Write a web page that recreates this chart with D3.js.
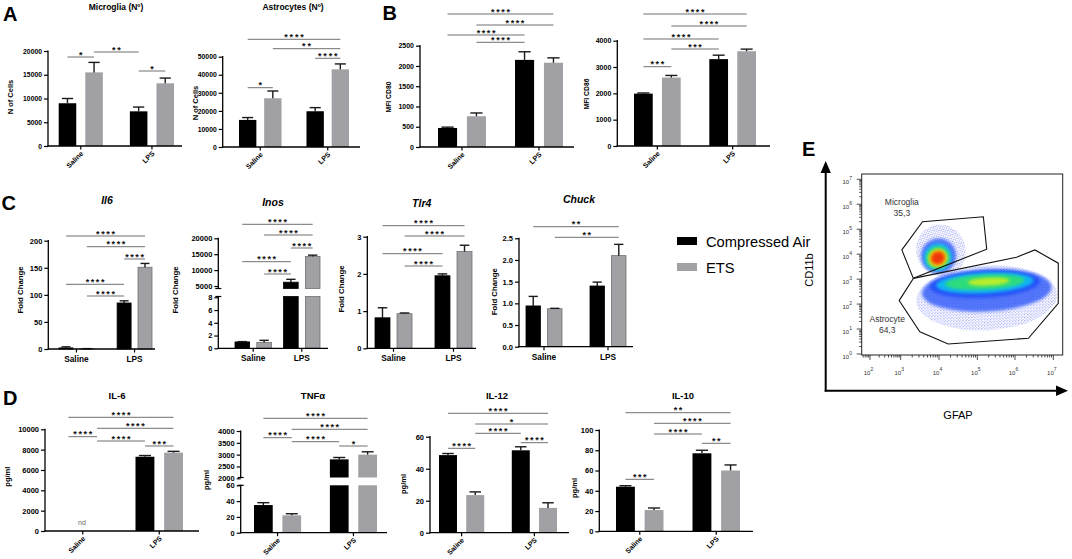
<!DOCTYPE html>
<html><head><meta charset="utf-8">
<script src="https://cdn.jsdelivr.net/npm/d3@7"></script>
<style>
html,body{margin:0;padding:0;background:#fff;}
svg{display:block;}
</style></head><body>
<svg id="fig" width="1072" height="559"></svg>
<script>
// ================= DATA =================
const groups = ["Saline", "LPS"];
const seriesNames = ["Compressed Air", "ETS"];
// bar order: Saline/Compressed Air, Saline/ETS, LPS/Compressed Air, LPS/ETS

// A
const microgliaMean = [9000, 15500, 7300, 13200];
const microgliaSEM  = [1000, 2100, 900, 1100];
const microgliaSig  = [[0,1,"*"],[1,2,"**"],[2,3,"*"]];
const microgliaTicks = [0,5000,10000,15000,20000];

const astroMean = [15000, 27000, 19800, 43000];
const astroSEM  = [1300, 4000, 2000, 3000];
const astroSig  = [[0,1,"*"],[2,3,"****"],[1,3,"**"],[0,3,"****"]];
const astroTicks = [0,10000,20000,30000,40000,50000];

// B
const cd80Mean = [470, 760, 2150, 2080];
const cd80SEM  = [20, 80, 200, 120];
const cd80Sig  = [[1,2,"****"],[0,2,"****"],[1,3,"****"],[0,3,"****"]];
const cd80Ticks = [0,500,1000,1500,2000,2500];

const cd86Mean = [1990, 2600, 3300, 3600];
const cd86SEM  = [25, 80, 150, 80];
const cd86Sig  = [[0,1,"***"],[1,2,"***"],[0,2,"****"],[1,3,"****"],[0,3,"****"]];
const cd86Ticks = [0,1000,2000,3000,4000];

// C
const il6FoldMean = [2, 0.4, 85, 151];
const il6FoldSEM  = [2, 0.3, 4, 7];
const il6FoldSig  = [[1,2,"****"],[0,2,"****"],[2,3,"****"],[1,3,"****"],[0,3,"****"]];
const il6FoldTicks = [0,50,100,150,200];

const inosMean = [1.0, 0.9, 6200, 14300];
const inosSEM  = [0.05, 0.35, 900, 400];
const inosSig  = [[1,2,"****"],[0,2,"****"],[2,3,"****"],[1,3,"****"],[0,3,"****"]];
const inosTicksLow = [0,2,4,6,8];
const inosTicksHigh = [5000,10000,15000,20000];

const tlr4Mean = [0.82, 0.93, 1.95, 2.6];
const tlr4SEM  = [0.27, 0.02, 0.05, 0.17];
const tlr4Sig  = [[1,2,"****"],[0,2,"****"],[1,3,"****"],[0,3,"****"]];
const tlr4Ticks = [0,1,2,3];

const chuckMean = [0.94, 0.875, 1.40, 2.1];
const chuckSEM  = [0.22, 0.01, 0.09, 0.26];
const chuckSig  = [[1,3,"**"],[0,3,"**"]];
const chuckTicks = [0,0.5,1,1.5,2,2.5];

// D
const il6Mean = [null, null, 7300, 7700];
const il6SEM  = [null, null, 120, 130];
const il6Sig  = [[2,3,"***"],[1,2,"****"],[0,1,"****"],[1,3,"****"],[0,3,"****"]];
const il6Ticks = [0,2000,4000,6000,8000,10000];

const tnfMean = [35, 22, 2800, 3000];
const tnfSEM  = [3, 2, 80, 120];
const tnfSig  = [[2,3,"*"],[1,2,"****"],[0,1,"****"],[1,3,"****"],[0,3,"****"]];
const tnfTicksLow = [0,20,40,60];
const tnfTicksHigh = [2000,2500,3000,3500,4000];

const il12Mean = [48.5, 23.5, 51.5, 15.5];
const il12SEM  = [1, 2, 2.2, 3.2];
const il12Sig  = [[0,1,"****"],[2,3,"****"],[1,2,"****"],[1,3,"*"],[0,3,"****"]];
const il12Ticks = [0,20,40,60];

const il10Mean = [44, 21, 77, 60];
const il10SEM  = [1, 2, 3, 5.5];
const il10Sig  = [[0,1,"***"],[2,3,"**"],[1,2,"****"],[1,3,"****"],[0,3,"**"]];
const il10Ticks = [0,20,40,60,80,100];

// E  (flow cytometry, log10 units)
const flowXDecades = [2,3,4,5,6,7];
const flowYDecades = [0,1,2,3,4,5,6,7];
const microgliaGate = [[3.03,4.17],[3.57,5.30],[5.16,5.50],[5.25,4.20],[3.33,3.03]];
const astrocyteGate = [[3.33,3.03],[6.04,3.88],[6.52,4.17],[7.13,3.64],[7.13,2.03],[6.35,0.63],[4.24,0.40],[3.50,0.89],[2.95,2.14]];
const gateLabels = [
  {name:"Microglia", pct:"35,3", x:3.03, y:6.08, y2:5.64},
  {name:"Astrocyte", pct:"64,3", x:2.56, y:1.40, y2:0.96}
];
// density contours: [centerX, centerY, radiusX, radiusY, level]
const microgliaDensity = [
  [4.05,4.15,0.64,1.05,0],[3.99,3.93,0.46,0.70,1],[3.97,3.88,0.37,0.55,2],
  [3.97,3.86,0.31,0.45,3],[3.97,3.85,0.26,0.37,4],[3.97,3.85,0.22,0.31,5],[3.97,3.85,0.17,0.24,6]
];
const astrocyteDensity = [
  [5.25,2.25,1.85,1.30,0],[5.25,2.55,1.70,0.85,1],[5.20,2.80,1.45,0.55,1],
  [5.20,2.85,1.28,0.42,2],[5.20,2.88,1.05,0.30,3],[5.30,2.90,0.55,0.16,4]
];
const densityPalette = ["#2030e0","#2050f8","#10c0f0","#30e070","#c8f020","#ffa000","#f02a10"];

// ================= LAYOUT =================
const FONT = '"Liberation Sans", Arial, Helvetica, sans-serif';
const GREY = "#a1a1a5";
const svg = d3.select("#fig").attr("font-family", FONT);

const panelStyle = {
  A:{tick:6.8, title:8.5, tstyle:"normal", ylab:7.5, xlab:7, xrot:true, star:9, ls:1.9},
  B:{tick:7, title:8.5, tstyle:"normal", ylab:6.8, xlab:7, xrot:true, star:9, ls:1.6},
  C:{tick:7.5, title:10.5, tstyle:"italic", ylab:7.8, xlab:8.3, xrot:false, star:9, ls:1.6, outline:true},
  D:{tick:7.5, title:9.5, tstyle:"normal", ylab:7.5, xlab:7, xrot:true, star:9, ls:1.6}
};

const layout = {
  microglia:{ax:[48,182], bars:[58.7,174], gp:0.38, bp:0.34, segs:[{r:[146,51]}], sigY:[57,52,71], tx:116, ty:10, lx:10, ly:97},
  astro:{ax:[222.7,360], bars:[239,349], gp:0.37, bp:0.31, segs:[{r:[147,56.7]}], sigY:[87.7,58.3,48.7,39.3], tx:293, ty:10, lx:195, ly:103},
  cd80:{ax:[420,574], bars:[438,563], gp:0.377, bp:0.34, segs:[{r:[147,45.7]}], sigY:[42.3,35,25,14], lx:388, ly:97},
  cd86:{ax:[617.3,770], bars:[634,756], gp:0.38, bp:0.33, segs:[{r:[146,40.7]}], sigY:[66.7,49,39,26,14], lx:586.7, ly:94},
  il6f:{ax:[48.3,155], bars:[59,152], gp:0.40, bp:0.33, segs:[{r:[349,240.7]}], sigY:[296,284.3,259,246.7,236], tx:107, ty:204, lx:20, ly:290},
  inos:{ax:[218.3,328], bars:[235,320], gp:0.25, bp:0.33, segs:[{r:[348.3,297.3], ext:[348.3,296.5]},{r:[286,238.3], ext:[288.5,238.3]}], sigY:[274,261.7,248,235,224.3], tx:273, ty:205.5, lx:175, ly:290},
  tlr4:{ax:[367.3,476], bars:[375,472], gp:0.383, bp:0.32, segs:[{r:[348.3,236.7]}], sigY:[266,253.7,236,225.7], tx:421.7, ty:207, lx:341.7, ly:289},
  chuck:{ax:[519,633], bars:[526,626], gp:0.4375, bp:0.33, segs:[{r:[346.7,238.3]}], sigY:[237.3,226.7], tx:579, ty:203, lx:494, ly:291.7},
  il6:{ax:[45,199], bars:[59,183], gp:0.379, bp:0.34, segs:[{r:[531,429.3]}], sigY:[446,441,436.7,428.3,417.3], tx:117, ty:398.5, lx:7.3, ly:476.7, nd:[82,525]},
  tnf:{ax:[240.7,387], bars:[254,377], gp:0.379, bp:0.34, segs:[{r:[532.7,485.3], ext:[532.7,485.3]},{r:[478.3,431], ext:[477.5,431]}], sigY:[446,441.7,437.7,429.3,418.3], tx:313, ty:398.5, lx:206, ly:480},
  il12:{ax:[430,569], bars:[439,557], gp:0.379, bp:0.34, segs:[{r:[532.7,436.7]}], sigY:[448.3,442.7,433.3,424,413.3], tx:497, ty:398.5, lx:403, ly:484},
  il10:{ax:[599.3,753], bars:[616,740], gp:0.379, bp:0.34, segs:[{r:[531.3,430]}], sigY:[479.3,443.3,434,423.3,412.7], tx:683, ty:398.5, lx:574, ly:488}
};

const charts = [
  {id:"microglia", panel:"A", title:"Microglia (Nº)", ylab:"N of Cells", mean:microgliaMean, sem:microgliaSEM, sig:microgliaSig, segs:[{d:[0,20000], t:microgliaTicks}]},
  {id:"astro", panel:"A", title:"Astrocytes (Nº)", ylab:"N of Cells", mean:astroMean, sem:astroSEM, sig:astroSig, segs:[{d:[0,50000], t:astroTicks}]},
  {id:"cd80", panel:"B", title:null, ylab:"MFI CD80", mean:cd80Mean, sem:cd80SEM, sig:cd80Sig, segs:[{d:[0,2500], t:cd80Ticks}]},
  {id:"cd86", panel:"B", title:null, ylab:"MFI CD86", mean:cd86Mean, sem:cd86SEM, sig:cd86Sig, segs:[{d:[0,4000], t:cd86Ticks}]},
  {id:"il6f", panel:"C", title:"Il6", ylab:"Fold Change", mean:il6FoldMean, sem:il6FoldSEM, sig:il6FoldSig, segs:[{d:[0,200], t:il6FoldTicks}]},
  {id:"inos", panel:"C", title:"Inos", ylab:"Fold Change", mean:inosMean, sem:inosSEM, sig:inosSig, segs:[{d:[0,8], t:inosTicksLow},{d:[5000,20000], t:inosTicksHigh}]},
  {id:"tlr4", panel:"C", title:"Tlr4", ylab:"Fold Change", mean:tlr4Mean, sem:tlr4SEM, sig:tlr4Sig, segs:[{d:[0,3], t:tlr4Ticks}]},
  {id:"chuck", panel:"C", title:"Chuck", ylab:"Fold Change", mean:chuckMean, sem:chuckSEM, sig:chuckSig, segs:[{d:[0,2.5], t:chuckTicks}], fmt:".1f"},
  {id:"il6", panel:"D", title:"IL-6", ylab:"pg/ml", mean:il6Mean, sem:il6SEM, sig:il6Sig, segs:[{d:[0,10000], t:il6Ticks}], nd:"nd"},
  {id:"tnf", panel:"D", title:"TNFα", ylab:"pg/ml", mean:tnfMean, sem:tnfSEM, sig:tnfSig, segs:[{d:[0,60], t:tnfTicksLow},{d:[2000,4000], t:tnfTicksHigh}]},
  {id:"il12", panel:"D", title:"IL-12", ylab:"pg/ml", mean:il12Mean, sem:il12SEM, sig:il12Sig, segs:[{d:[0,60], t:il12Ticks}]},
  {id:"il10", panel:"D", title:"IL-10", ylab:"pg/ml", mean:il10Mean, sem:il10SEM, sig:il10Sig, segs:[{d:[0,100], t:il10Ticks}]}
];

function drawChart(c) {
  const L = layout[c.id], S = panelStyle[c.panel];
  const g = svg.append("g");
  const gx = d3.scaleBand().domain(groups).range(L.bars).paddingInner(L.gp).paddingOuter(0);
  const sx = d3.scaleBand().domain(seriesNames).range([0, gx.bandwidth()]).paddingInner(L.bp).paddingOuter(0);
  const bw = sx.bandwidth();
  const bx = i => gx(groups[Math.floor(i/2)]) + sx(seriesNames[i%2]);
  const segs = c.segs.map((s,k)=>{const l=L.segs[k]; return {d:s.d, t:s.t, r:l.r, ext:l.ext||l.r, sc:d3.scaleLinear().domain(s.d).range(l.r)};});
  const base = segs[0].sc(0);

  // bars
  c.mean.forEach((m,i)=>{
    if (m==null) return;
    segs.forEach((s,k)=>{
      if (k>0 && m<=s.d[0]) return;
      const yb = k===0 ? s.sc(0) : s.ext[0];
      const yt = m > s.d[1] ? s.ext[1] : s.sc(m);
      g.append("rect").attr("x",bx(i)).attr("y",yt).attr("width",bw).attr("height",Math.max(0,yb-yt))
        .attr("fill", i%2 ? GREY : "#000")
        .attr("stroke", S.outline ? (i%2 ? "#707070" : "#000") : "none").attr("stroke-width",0.8);
    });
    const s = segs.find((s,k)=> m<=s.d[1] && (k===0 || m>s.d[0])) || segs[segs.length-1];
    const y1 = s.sc(m), y2 = s.sc(m + c.sem[i]);
    const cx = bx(i) + bw/2;
    g.append("line").attr("x1",cx).attr("x2",cx).attr("y1",y1).attr("y2",y2).attr("stroke","#1a1a1a").attr("stroke-width",1.4);
    g.append("line").attr("x1",cx-bw*0.32).attr("x2",cx+bw*0.32).attr("y1",y2).attr("y2",y2).attr("stroke","#1a1a1a").attr("stroke-width",1.4);
  });

  // y axis segments
  segs.forEach((s,k)=>{
    const ax = d3.axisLeft(s.sc).tickValues(s.t).tickSize(4).tickSizeOuter(0).tickPadding(2)
      .tickFormat(d3.format(c.fmt || "d"));
    const ag = g.append("g").attr("transform",`translate(${L.ax[0]},0)`).call(ax);
    ag.select(".domain").remove();
    ag.selectAll(".tick line").attr("stroke","#000").attr("stroke-width",1.2);
    ag.selectAll(".tick text").attr("font-size",S.tick).attr("font-weight","bold").attr("font-family",FONT).attr("fill","#000");
    g.append("line").attr("x1",L.ax[0]).attr("x2",L.ax[0]).attr("y1",s.ext[0]+0.6).attr("y2",s.ext[1]-0.6)
      .attr("stroke","#000").attr("stroke-width",1.3);
    if (segs.length>1) {
      const yb = k===0 ? s.ext[1] : s.ext[0];
      g.append("line").attr("x1",L.ax[0]-3).attr("x2",L.ax[0]+3).attr("y1",yb).attr("y2",yb).attr("stroke","#000").attr("stroke-width",1.2);
    }
  });

  // x axis
  g.append("line").attr("x1",L.ax[0]-0.6).attr("x2",L.ax[1]).attr("y1",base).attr("y2",base).attr("stroke","#000").attr("stroke-width",1.3);
  groups.forEach(gr=>{
    const cx = gx(gr) + gx.bandwidth()/2;
    g.append("line").attr("x1",cx).attr("x2",cx).attr("y1",base).attr("y2",base+3.5).attr("stroke","#000").attr("stroke-width",1.2);
    const t = g.append("text").text(gr).attr("font-size",S.xlab).attr("font-weight","bold").attr("fill","#000");
    if (S.xrot) t.attr("text-anchor","end").attr("transform",`translate(${cx+3},${base+8}) rotate(-45)`);
    else t.attr("text-anchor","middle").attr("x",cx).attr("y",base+13);
  });

  // title
  if (c.title) {
    g.append("text").text(c.title).attr("x",L.tx).attr("y",L.ty).attr("text-anchor","middle")
      .attr("font-size",S.title).attr("font-weight","bold").attr("font-style",S.tstyle).attr("fill","#000");
  }
  // y label
  g.append("text").text(c.ylab).attr("text-anchor","middle").attr("dominant-baseline","central")
    .attr("transform",`translate(${L.lx},${L.ly}) rotate(-90)`)
    .attr("font-size",S.ylab).attr("font-weight","bold").attr("fill","#000");

  // significance
  c.sig.forEach(([i,j,lab],k)=>{
    const y = L.sigY[k];
    const x1 = bx(i)+bw/2, x2 = bx(j)+bw/2;
    g.append("line").attr("x1",x1).attr("x2",x2).attr("y1",y).attr("y2",y).attr("stroke","#707070").attr("stroke-width",1);
    g.append("text").text(lab).attr("x",(x1+x2)/2 + S.ls/2).attr("y",y - 4.5 + 0.58*S.star)
      .attr("text-anchor","middle").attr("font-size",S.star).attr("font-weight","bold")
      .attr("letter-spacing",S.ls).attr("fill","#111");
  });

  if (c.nd) {
    g.append("text").text(c.nd).attr("x",L.nd[0]).attr("y",L.nd[1]).attr("text-anchor","middle")
      .attr("font-size",7).attr("fill","#666");
  }
}
charts.forEach(drawChart);

// panel letters
[["A",3,20.7],["B",382.5,20],["C",1.5,210],["D",3,405],["E",802,156]].forEach(([t,x,y])=>{
  svg.append("text").text(t).attr("x",x).attr("y",y).attr("font-size",20).attr("font-weight","bold").attr("fill","#000");
});

// legend
seriesNames.forEach((n,i)=>{
  const y = [237,263][i];
  svg.append("rect").attr("x",677).attr("y",y).attr("width",20).attr("height",8).attr("fill", i ? GREY : "#000");
  svg.append("text").text(n).attr("x",706).attr("y",y+10).attr("font-size",14.7).attr("fill","#000");
});

// ================= PANEL E =================
(function(){
  const box = {x0:861.7, x1:1062.7, y0:174, y1:355};
  const fx = d3.scaleLinear().domain(flowXDecades).range([870,900.7,939,977.3,1015,1053.3]);
  const fy = d3.scaleLinear().domain([0,7]).range([354,179.3]);
  const g = svg.append("g");
  const defs = svg.append("defs");
  const pat = defs.append("pattern").attr("id","stip").attr("patternUnits","userSpaceOnUse").attr("width",3.1).attr("height",2.9);
  pat.append("circle").attr("cx",0.7).attr("cy",0.7).attr("r",0.55).attr("fill","#1a22d8");
  pat.append("circle").attr("cx",2.2).attr("cy",2.1).attr("r",0.5).attr("fill","#3a52ff");
  defs.append("filter").attr("id","blur").attr("x","-50%").attr("y","-50%").attr("width","200%").attr("height","200%")
    .append("feGaussianBlur").attr("stdDeviation",1.8);
  const clip = defs.append("clipPath").attr("id","boxclip");
  clip.append("rect").attr("x",box.x0).attr("y",box.y0).attr("width",box.x1-box.x0).attr("height",box.y1-box.y0);

  const dg = g.append("g").attr("clip-path","url(#boxclip)");
  function drawCloud(layers, rot) {
    layers.forEach(([cx,cy,rx,ry,lev],k)=>{
      const px = fx(cx), py = fy(cy);
      const prx = Math.abs(fx(cx+rx)-fx(cx-rx))/2, pry = Math.abs(fy(cy+ry)-fy(cy-ry))/2;
      const e = dg.append("ellipse").attr("cx",px).attr("cy",py).attr("rx",prx).attr("ry",pry)
        .attr("transform",`rotate(${rot},${px},${py})`);
      if (k===0) e.attr("fill","url(#stip)").attr("opacity",0.8);
      else e.attr("fill",densityPalette[lev]).attr("filter","url(#blur)").attr("opacity",k===1?0.75:0.9);
    });
  }
  drawCloud(astrocyteDensity, -3);
  drawCloud(microgliaDensity, -25);

  // box
  g.append("rect").attr("x",box.x0).attr("y",box.y0).attr("width",box.x1-box.x0).attr("height",box.y1-box.y0)
    .attr("fill","none").attr("stroke","#222").attr("stroke-width",1);

  // gates
  const line = d3.line().x(d=>fx(d[0])).y(d=>fy(d[1]));
  [microgliaGate, astrocyteGate].forEach(p=>{
    g.append("path").attr("d", line(p)+"Z").attr("fill","none").attr("stroke","#111").attr("stroke-width",1.1);
  });
  gateLabels.forEach(l=>{
    g.append("text").text(l.name).attr("x",fx(l.x)).attr("y",fy(l.y)+3).attr("text-anchor","middle").attr("font-size",8.5).attr("fill","#333");
    g.append("text").text(l.pct).attr("x",fx(l.x)).attr("y",fy(l.y2)+3).attr("text-anchor","middle").attr("font-size",8.5).attr("fill","#333");
  });

  // y ticks
  const tk = g.append("g").attr("stroke","#222").attr("stroke-width",0.8);
  flowYDecades.forEach(n=>{
    tk.append("line").attr("x1",box.x0-5).attr("x2",box.x0).attr("y1",fy(n)).attr("y2",fy(n));
    if (n<7) d3.range(2,10).forEach(k=>{
      const y = fy(n+Math.log10(k));
      tk.append("line").attr("x1",box.x0-2.5).attr("x2",box.x0).attr("y1",y).attr("y2",y);
    });
    const t = g.append("text").attr("x",852).attr("y",fy(n)+5).attr("text-anchor","end").attr("font-size",6).attr("fill","#333");
    t.append("tspan").text("10");
    t.append("tspan").text(n).attr("font-size",5).attr("dy",-4);
  });
  // x ticks
  [1,2,3,4,5,6].forEach(n=>{
    if (n>=2) tk.append("line").attr("x1",fx(n)).attr("x2",fx(n)).attr("y1",box.y1).attr("y2",box.y1+5);
    d3.range(2,10).forEach(k=>{
      const v = n+Math.log10(k);
      const x = fx(v);
      if (x < box.x0 || x > box.x1) return;
      tk.append("line").attr("x1",x).attr("x2",x).attr("y1",box.y1).attr("y2",box.y1+2.5);
    });
  });
  tk.append("line").attr("x1",fx(7)).attr("x2",fx(7)).attr("y1",box.y1).attr("y2",box.y1+5);
  flowXDecades.forEach(n=>{
    const t = g.append("text").attr("x",fx(n)-1.5).attr("y",374.5).attr("text-anchor","middle").attr("font-size",6).attr("fill","#333");
    t.append("tspan").text("10");
    t.append("tspan").text(n).attr("font-size",5).attr("dy",-4);
  });

  // big arrows
  g.append("line").attr("x1",825.7).attr("x2",825.7).attr("y1",391.5).attr("y2",170).attr("stroke","#000").attr("stroke-width",2);
  g.append("path").attr("d","M825.7,161 L820.5,173 L830.9,173 Z").attr("fill","#000");
  g.append("line").attr("x1",824.7).attr("x2",1058).attr("y1",390.7).attr("y2",390.7).attr("stroke","#000").attr("stroke-width",2);
  g.append("path").attr("d","M1068,390.7 L1056,385.5 L1056,395.9 Z").attr("fill","#000");

  g.append("text").text("CD11b").attr("text-anchor","middle").attr("dominant-baseline","central")
    .attr("transform","translate(809,270) rotate(-90)").attr("font-size",11).attr("fill","#000");
  g.append("text").text("GFAP").attr("x",958).attr("y",419).attr("text-anchor","middle").attr("font-size",11).attr("fill","#000");
})();
</script>
</body></html>
